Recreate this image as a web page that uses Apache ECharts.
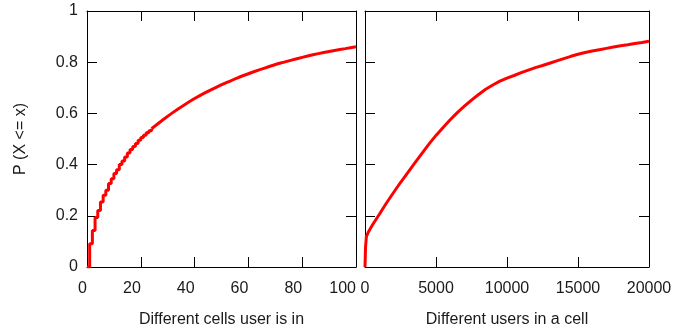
<!DOCTYPE html>
<html>
<head>
<meta charset="utf-8">
<script src="https://cdn.jsdelivr.net/npm/echarts@6/dist/echarts.min.js"></script>
<style>
  html, body { margin: 0; padding: 0; background: #fff; }
  #chart { width: 699px; height: 333px; }
</style>
</head>
<body>
<div id="chart"></div>
<script>
// CDF of the number of different cells a user is in (discrete steps at small counts)
const cellsStepX = [0, 1, 2, 3, 4, 5, 6, 7, 8, 9, 10, 11, 12, 13, 14, 15, 16, 17, 18, 19, 20, 21, 22, 23, 24];
const cellsStepP = [0, 0.091, 0.143, 0.193, 0.221, 0.254, 0.28, 0.30, 0.326, 0.345, 0.365, 0.38, 0.40, 0.414, 0.43, 0.445, 0.459, 0.471, 0.482, 0.495, 0.506, 0.515, 0.524, 0.532, 0.54];
// tail of the same CDF, where the steps are too small to see
const cellsTailX = [24, 28, 32, 36, 40, 44, 48, 52, 56, 60, 64, 68, 72, 76, 80, 84, 88, 92, 96, 100];
const cellsTailP = [0.54, 0.573, 0.604, 0.632, 0.658, 0.681, 0.702, 0.721, 0.739, 0.755, 0.77, 0.784, 0.797, 0.808, 0.819, 0.829, 0.838, 0.846, 0.853, 0.86];

// CDF of the number of different users seen in a cell
const usersX = [0, 40, 100, 250, 500, 1000, 1500, 2000, 2500, 3000, 3500, 4000, 4500, 5000, 5500, 6000, 6500, 7000, 7500, 8000, 8500, 9000, 9500, 10000,
  10500, 11000, 11500, 12000, 12500, 13000, 13500, 14000, 14500, 15000, 15500, 16000, 16500, 17000, 17500, 18000, 18500, 19000, 19500, 20000];
const usersP = [0, 0.08, 0.12, 0.138, 0.162, 0.205, 0.249, 0.29, 0.33, 0.368, 0.406, 0.443, 0.48, 0.514, 0.545, 0.575, 0.603, 0.628, 0.652, 0.674, 0.694, 0.711, 0.726, 0.738,
  0.748, 0.759, 0.769, 0.779, 0.787, 0.796, 0.805, 0.814, 0.823, 0.831, 0.838, 0.844, 0.849, 0.854, 0.859, 0.864, 0.868, 0.873, 0.877, 0.882];

const yTicks = [0, 0.2, 0.4, 0.6, 0.8, 1];

const zip = (xs, ys) => xs.map((x, i) => [x, ys[i]]);

const FONT = 'Liberation Sans';
const TXT = '#1a1a1a';
const RED = '#ff0000';
const line = { show: true, onZero: false, lineStyle: { color: '#000', width: 1 } };
const tick = { show: true, inside: true, length: 10, lineStyle: { color: '#000', width: 1 } };
const label = { color: TXT, fontFamily: FONT, fontSize: 16 };

function xAxis(grid, pos, max, step, withLabels, name, align) {
  return {
    type: 'value', gridIndex: grid, position: pos, min: 0, max: max, interval: step,
    axisLine: line, axisTick: tick, splitLine: { show: false },
    axisLabel: withLabels ? Object.assign({
      show: true, margin: 14, align: align, showMinLabel: true, showMaxLabel: true, hideOverlap: false,
      formatter: v => String(v)
    }, label) : { show: false },
    name: name || '', nameLocation: 'middle', nameGap: 45,
    nameTextStyle: { color: TXT, fontFamily: FONT, fontSize: 16 }
  };
}
function yAxis(grid, pos, withLabels, name) {
  return {
    type: 'value', gridIndex: grid, position: pos, min: yTicks[0], max: yTicks[yTicks.length - 1], interval: 0.2,
    axisLine: line, axisTick: tick, splitLine: { show: false },
    axisLabel: withLabels ? Object.assign({ show: true, margin: 9, showMinLabel: true, showMaxLabel: true }, label) : { show: false },
    name: name || '', nameLocation: 'middle', nameGap: 58, nameRotate: 90,
    nameTextStyle: { color: TXT, fontFamily: FONT, fontSize: 16 }
  };
}

const chart = echarts.init(document.getElementById('chart'), null, { renderer: 'canvas' });
chart.setOption({
  animation: false,
  backgroundColor: '#fff',
  grid: [
    { left: 87, top: 11, width: 269, height: 256 },
    { left: 365, top: 11, width: 284, height: 256 }
  ],
  xAxis: [
    xAxis(0, 'bottom', 100, 20, true, 'Different cells user is in', 'right'),
    xAxis(0, 'top', 100, 20, false),
    xAxis(1, 'bottom', 20000, 5000, true, 'Different users in a cell', 'center'),
    xAxis(1, 'top', 20000, 5000, false)
  ],
  yAxis: [
    yAxis(0, 'left', true, 'P (X <= x)'),
    yAxis(0, 'right', false),
    yAxis(1, 'left', false),
    yAxis(1, 'right', false)
  ],
  series: [
    {
      type: 'line', xAxisIndex: 0, yAxisIndex: 0, step: 'end', showSymbol: false,
      data: zip(cellsStepX, cellsStepP), lineStyle: { color: RED, width: 3 }, z: 3
    },
    {
      type: 'line', xAxisIndex: 0, yAxisIndex: 0, smooth: 0.2, showSymbol: false,
      data: zip(cellsTailX, cellsTailP), lineStyle: { color: RED, width: 3 }, z: 3
    },
    {
      type: 'line', xAxisIndex: 2, yAxisIndex: 2, showSymbol: false,
      data: zip(usersX, usersP), lineStyle: { color: RED, width: 3 }, z: 3
    }
  ]
});
</script>
</body>
</html>
